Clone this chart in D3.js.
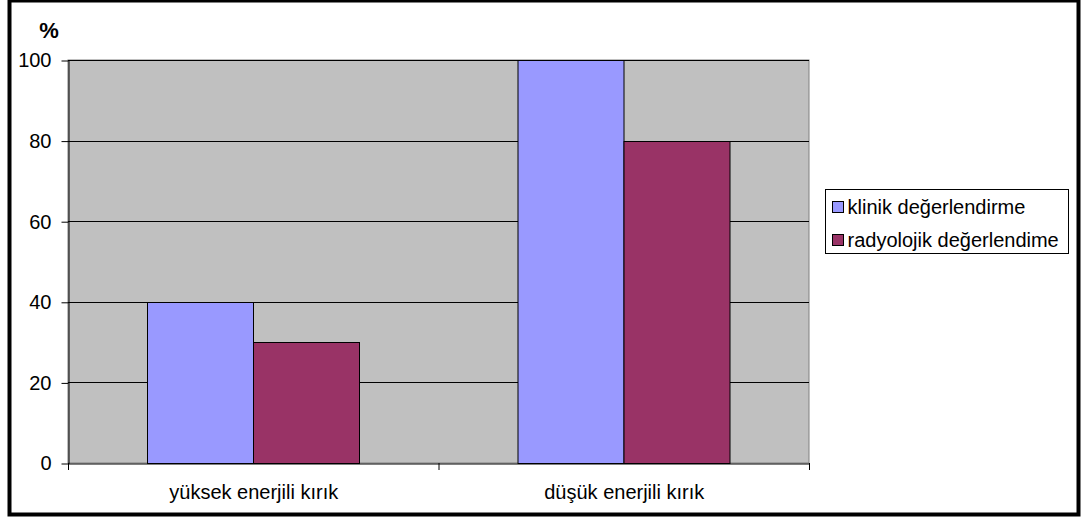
<!DOCTYPE html>
<html>
<head>
<meta charset="utf-8">
<script src="https://cdn.jsdelivr.net/npm/d3@7"></script>
<style>
  html, body { margin: 0; padding: 0; background: #fff; }
  svg { display: block; font-family: "Liberation Sans", Arial, sans-serif; }
</style>
</head>
<body>
<svg id="chart" width="1085" height="518"></svg>
<script>
// Fracture groups and the share (%) found by each assessment method
const categories = ["yüksek enerjili kırık", "düşük enerjili kırık"];
const seriesNames = ["klinik değerlendirme", "radyolojik değerlendime"];
const klinikValues = [40, 100];
const radyolojikValues = [30, 80];
const yTicks = [0, 20, 40, 60, 80, 100];
const colors = ["#9999FF", "#993366"];

const FONT = "'Liberation Sans', Arial, sans-serif";
const FS = 20;

const svg = d3.select("#chart");

// Outer frame
svg.append("rect")
  .attr("x", 9.5).attr("y", 0.5)
  .attr("width", 1069).attr("height", 514)
  .attr("fill", "#fff")
  .attr("stroke", "#000").attr("stroke-width", 4);

const plot = { left: 68, right: 809, top: 60, bottom: 463 };

const x = d3.scaleBand()
  .domain(categories)
  .range([plot.left, plot.right])
  .paddingInner(0).paddingOuter(0);

const xInner = d3.scaleBand()
  .domain(seriesNames)
  .range([0, x.bandwidth()])
  .paddingOuter(0.75).paddingInner(0);

const y = d3.scaleLinear().domain([0, 100]).range([plot.bottom, plot.top]);

// Plot background
svg.append("rect")
  .attr("x", plot.left).attr("y", plot.top)
  .attr("width", plot.right - plot.left).attr("height", plot.bottom - plot.top)
  .attr("fill", "#C0C0C0")
  .attr("stroke", "#808080").attr("stroke-width", 1);

// Horizontal gridlines
svg.append("g")
  .selectAll("line")
  .data(yTicks.filter(d => d > 0))
  .join("line")
  .attr("x1", plot.left).attr("x2", plot.right)
  .attr("y1", d => Math.round(y(d)) + 0.5).attr("y2", d => Math.round(y(d)) + 0.5)
  .attr("stroke", "#000").attr("stroke-width", 1);

// Bars
const rows = categories.map((c, i) => ({
  category: c,
  values: [klinikValues[i], radyolojikValues[i]]
}));

const groups = svg.append("g")
  .selectAll("g")
  .data(rows)
  .join("g")
  .attr("transform", d => `translate(${x(d.category)},0)`);

groups.selectAll("rect")
  .data(d => d.values.map((v, j) => ({ name: seriesNames[j], value: v, j })))
  .join("rect")
  .attr("x", d => Math.round(xInner(d.name)) + 0.5)
  .attr("y", d => Math.round(y(d.value)) + 0.5)
  .attr("width", Math.round(xInner.bandwidth()))
  .attr("height", d => Math.round(y(0)) - Math.round(y(d.value)))
  .attr("fill", d => colors[d.j])
  .attr("stroke", "#000").attr("stroke-width", 1);

// Y axis
const yAxis = svg.append("g")
  .attr("transform", `translate(${plot.left + 0.5},0.5)`)
  .call(d3.axisLeft(y).tickValues(yTicks).tickSize(7).tickPadding(10).tickSizeOuter(0));
yAxis.select(".domain").attr("stroke", "#000");
yAxis.selectAll(".tick line").attr("stroke", "#000");
yAxis.selectAll("text")
  .attr("font-size", FS).attr("fill", "#000").attr("font-family", FONT);

// X axis
const xAxis = svg.append("g")
  .attr("transform", `translate(0.5,${plot.bottom + 0.5})`)
  .call(d3.axisBottom(x).tickSize(0).tickPadding(21).tickSizeOuter(0));
xAxis.select(".domain").attr("stroke", "#000");
xAxis.selectAll("text")
  .attr("font-size", FS).attr("fill", "#000").attr("font-family", FONT);

// Category separators on the x axis
svg.append("g")
  .selectAll("line")
  .data([plot.left, x(categories[1]), plot.right])
  .join("line")
  .attr("x1", d => d + 0.5).attr("x2", d => d + 0.5)
  .attr("y1", plot.bottom).attr("y2", plot.bottom + 7)
  .attr("stroke", "#000");

// Unit label
svg.append("text")
  .attr("x", 49).attr("y", 38)
  .attr("text-anchor", "middle")
  .attr("font-size", 22).attr("font-weight", "bold").attr("font-family", FONT)
  .text("%");

// Legend
const legend = svg.append("g").attr("transform", "translate(825.5,189.5)");
legend.append("rect")
  .attr("width", 243).attr("height", 64)
  .attr("fill", "#fff").attr("stroke", "#000");
const items = legend.selectAll("g.item")
  .data(seriesNames)
  .join("g")
  .attr("class", "item")
  .attr("transform", (d, i) => `translate(7,${12 + i * 33})`);
items.append("rect")
  .attr("width", 11).attr("height", 11)
  .attr("fill", (d, i) => colors[i]).attr("stroke", "#000");
items.append("text")
  .attr("x", 15).attr("y", 12)
  .attr("font-size", FS).attr("font-family", FONT)
  .text(d => d);
</script>
</body>
</html>
